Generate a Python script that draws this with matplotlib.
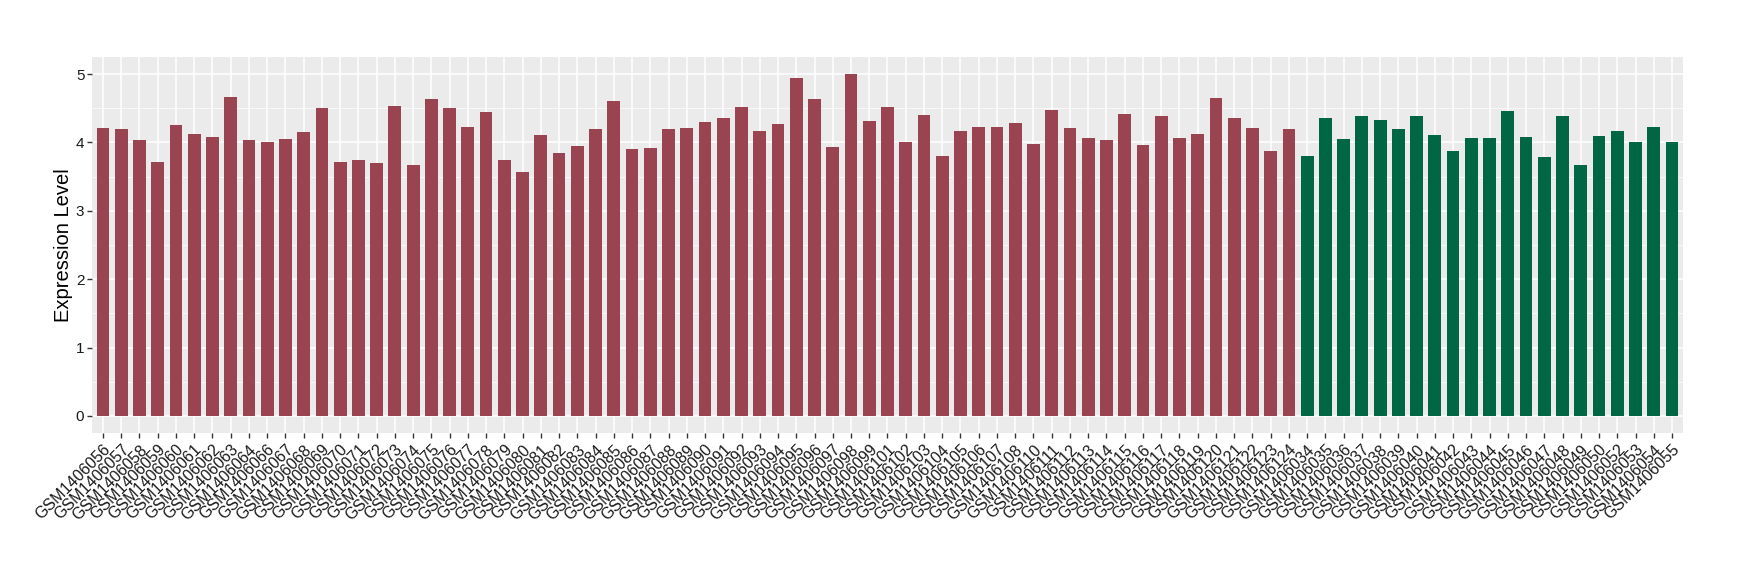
import matplotlib
matplotlib.use("Agg")
import matplotlib.pyplot as plt
from matplotlib.ticker import MultipleLocator

red_samples = ["GSM1406056","GSM1406057","GSM1406058","GSM1406059","GSM1406060","GSM1406061",
               "GSM1406062","GSM1406063","GSM1406064","GSM1406066","GSM1406067","GSM1406068",
               "GSM1406069","GSM1406070","GSM1406071","GSM1406072","GSM1406073","GSM1406074",
               "GSM1406075","GSM1406076","GSM1406077","GSM1406078","GSM1406079","GSM1406080",
               "GSM1406081","GSM1406082","GSM1406083","GSM1406084","GSM1406085","GSM1406086",
               "GSM1406087","GSM1406088","GSM1406089","GSM1406090","GSM1406091","GSM1406092",
               "GSM1406093","GSM1406094","GSM1406095","GSM1406096","GSM1406097","GSM1406098",
               "GSM1406099","GSM1406101","GSM1406102","GSM1406103","GSM1406104","GSM1406105",
               "GSM1406106","GSM1406107","GSM1406108","GSM1406110","GSM1406111","GSM1406112",
               "GSM1406113","GSM1406114","GSM1406115","GSM1406116","GSM1406117","GSM1406118",
               "GSM1406119","GSM1406120","GSM1406121","GSM1406122","GSM1406123","GSM1406124"]
red_values = [4.21, 4.19, 4.04, 3.72, 4.26, 4.13, 4.08, 4.67, 4.04, 4.01, 4.05, 4.16,
              4.51, 3.72, 3.75, 3.70, 4.54, 3.67, 4.64, 4.51, 4.23, 4.45, 3.75, 3.57,
              4.11, 3.85, 3.95, 4.20, 4.60, 3.91, 3.92, 4.20, 4.21, 4.30, 4.36, 4.52,
              4.17, 4.27, 4.95, 4.64, 3.94, 5.00, 4.32, 4.52, 4.01, 4.40, 3.80, 4.17,
              4.23, 4.23, 4.29, 3.98, 4.48, 4.21, 4.07, 4.04, 4.42, 3.97, 4.38, 4.07,
              4.13, 4.65, 4.36, 4.21, 3.88, 4.20]

green_samples = ["GSM1406034","GSM1406035","GSM1406036","GSM1406037","GSM1406038","GSM1406039",
                 "GSM1406040","GSM1406041","GSM1406042","GSM1406043","GSM1406044","GSM1406045",
                 "GSM1406046","GSM1406047","GSM1406048","GSM1406049","GSM1406050","GSM1406052",
                 "GSM1406053","GSM1406054","GSM1406055"]
green_values = [3.80, 4.36, 4.05, 4.39, 4.33, 4.20, 4.38, 4.11, 3.88, 4.07, 4.07, 4.46,
                4.08, 3.79, 4.39, 3.67, 4.10, 4.17, 4.01, 4.23, 4.00]

red_color = "#9A4351"
green_color = "#006644"
y_label = "Expression Level"

plt.rcParams['font.family'] = ['Liberation Sans', 'DejaVu Sans']

fig = plt.figure(figsize=(17.4, 5.8), dpi=100)
ax = fig.add_axes([92/1740, 1-433/580, (1683-92)/1740, (433-57)/580])

samples = red_samples + green_samples
values = red_values + green_values
colors = [red_color]*len(red_samples) + [green_color]*len(green_samples)
pos = list(range(len(samples)))

ax.set_facecolor("#EBEBEB")
ax.bar(pos, values, width=0.7, color=colors, zorder=3)

ax.set_xlim(-0.6, len(samples) - 1 + 0.6)
ax.set_ylim(-0.25, 5.25)
ax.set_xticks(pos)
ax.set_xticklabels(samples, rotation=45, ha='right', va='top', rotation_mode='anchor',
                   fontsize=11.5, color='#1A1A1A')
ax.yaxis.set_major_locator(MultipleLocator(1))
ax.yaxis.set_minor_locator(MultipleLocator(0.5))
ax.tick_params(axis='y', which='major', labelsize=11, labelcolor='#1A1A1A',
               length=3.5, width=1, color='#333333', pad=2)
ax.tick_params(axis='y', which='minor', length=0)
ax.tick_params(axis='x', which='major', length=3.5, width=1, color='#333333', pad=3)

ax.grid(which='major', color='white', linewidth=1.1, zorder=1)
ax.grid(which='minor', axis='y', color='white', linewidth=0.5, zorder=1)
for s in ax.spines.values():
    s.set_visible(False)

ax.set_ylabel(y_label, fontsize=14.5, color='black', labelpad=2)

fig.savefig("out.png", dpi=100, facecolor='white')
